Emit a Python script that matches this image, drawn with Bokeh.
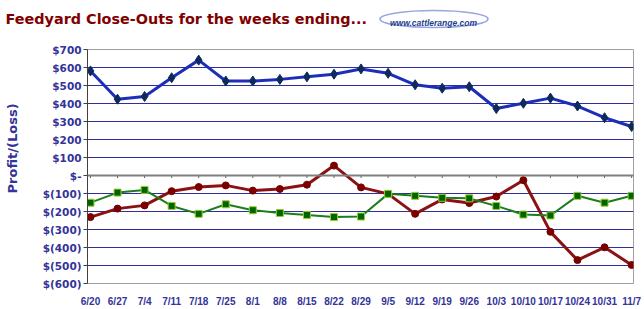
from bokeh.plotting import figure
from bokeh.layouts import column
from bokeh.models import Range1d, FixedTicker, Span, ColumnDataSource
from bokeh.core.properties import value
from bokeh.embed import file_html
from bokeh.resources import INLINE

# ---- data ----
weeks = ["6/20", "6/27", "7/4", "7/11", "7/18", "7/25", "8/1", "8/8", "8/15", "8/22",
         "8/29", "9/5", "9/12", "9/19", "9/26", "10/3", "10/10", "10/17", "10/24", "10/31", "11/7"]
series_blue = [581, 424, 439, 543, 641, 525, 525, 534, 548, 563,
               592, 568, 504, 485, 493, 372, 401, 430, 386, 321, 272]
series_red = [-231, -184, -166, -87, -64, -55, -84, -75, -51, 55,
              -66, -102, -213, -133, -153, -117, -26, -313, -470, -399, -497]
series_green = [-151, -95, -80, -169, -213, -160, -193, -208, -219, -231,
                -228, -102, -113, -124, -127, -169, -217, -222, -113, -151, -113]
y_ticks = [-600, -500, -400, -300, -200, -100, 0, 100, 200, 300, 400, 500, 600, 700]
title_text = "Feedyard Close-Outs for the weeks ending..."
logo_text = "www.cattlerange.com"
y_title = "Profit/(Loss)"


def money(v):
    if v == 0:
        return "$-"
    if v < 0:
        return "$(%d)" % (-v)
    return "$%d" % v


AXIS_BLUE = "#333399"
W = 644
HEAD_H = 43

# ---- header: title and logo ----
h = figure(width=W, height=HEAD_H, output_backend="svg", toolbar_location=None,
           x_range=Range1d(0, W), y_range=Range1d(HEAD_H, 0),
           min_border=0, min_border_left=0, min_border_right=0, min_border_top=0, min_border_bottom=0)
h.axis.visible = False
h.grid.visible = False
h.outline_line_color = None
h.background_fill_color = "white"
h.border_fill_color = "white"
h.text(x=[5], y=[18.5], text=[title_text], text_font=value("DejaVu Sans"), text_font_style="bold",
       text_font_size="14.4px", text_color="#800000", text_baseline="alphabetic", text_align="left")
h.ellipse(x=[433.5], y=[18.5], width=[108], height=[17], fill_color=None,
          line_color="#97a6e2", line_width=1.6)
h.text(x=[433], y=[22], text=[logo_text], text_font=value("Liberation Sans"), text_font_style="bold italic",
       text_font_size="8.5px", text_color="#233c8e", text_baseline="alphabetic", text_align="center")

# ---- main chart ----
idx = list(range(len(weeks)))
src = ColumnDataSource(dict(x=idx, blue=series_blue, red=series_red, green=series_green,
                            zero=[0] * len(idx), tick=[-14] * len(idx)))

p = figure(width=W, height=309 - HEAD_H, output_backend="svg", toolbar_location=None,
           x_range=Range1d(-0.11, 20.07), y_range=Range1d(-600, 700),
           min_border_left=87, min_border_right=11, min_border_top=6, min_border_bottom=21)
p.background_fill_color = "white"
p.border_fill_color = "white"
p.outline_line_color = "#a0a0a0"
p.outline_line_width = 1

for fig in (h, p):
    try:
        fig.frame_align = False
    except Exception:
        pass

# grid
p.xgrid.visible = False
p.ygrid.ticker = FixedTicker(ticks=y_ticks)
p.ygrid.grid_line_color = "#2e2e9e"
p.ygrid.grid_line_width = 1

# y axis
p.yaxis.ticker = FixedTicker(ticks=y_ticks)
p.yaxis.major_label_overrides = {v: money(v) for v in y_ticks}
p.yaxis.minor_tick_line_color = None
p.yaxis.major_tick_in = 0
p.yaxis.major_tick_out = 4
p.yaxis.major_tick_line_color = "#404040"
p.yaxis.axis_line_color = "#404040"
p.yaxis.axis_line_width = 1
p.yaxis.major_label_standoff = 2
p.yaxis.major_label_text_font = "DejaVu Sans"
p.yaxis.major_label_text_font_style = "bold"
p.yaxis.major_label_text_font_size = "10.5px"
p.yaxis.major_label_text_color = AXIS_BLUE
p.yaxis.axis_label = "\u00a0" * 8 + y_title
p.yaxis.axis_label_standoff = 20
p.yaxis.axis_label_text_font = "DejaVu Sans"
p.yaxis.axis_label_text_font_style = "bold"
p.yaxis.axis_label_text_font_size = "13px"
p.yaxis.axis_label_text_color = AXIS_BLUE

# x axis (labels only, at bottom)
p.xaxis.ticker = FixedTicker(ticks=idx)
p.xaxis.major_label_overrides = {i: w for i, w in zip(idx, weeks)}
p.xaxis.axis_line_color = None
p.xaxis.major_tick_line_color = None
p.xaxis.minor_tick_line_color = None
p.xaxis.major_label_standoff = 6
p.xaxis.major_label_text_font = "Liberation Sans"
p.xaxis.major_label_text_font_style = "bold"
p.xaxis.major_label_text_font_size = "10px"
p.xaxis.major_label_text_color = AXIS_BLUE

# zero (category) axis line with ticks
p.add_layout(Span(location=0, dimension="width", line_color="#808080", line_width=2))
p.segment(x0="x", x1="x", y0="zero", y1="tick", source=src, line_color="#606060", line_width=1)

# series
p.line("x", "red", source=src, line_color="#8b1212", line_width=3)
p.scatter("x", "red", source=src, marker="circle", size=7, fill_color="#7a0000", line_color="#7a0000")

p.line("x", "green", source=src, line_color="#1b7d1b", line_width=2)
p.scatter("x", "green", source=src, marker="square", size=7, fill_color="#006400",
          line_color="#9acd32", line_width=1)

p.line("x", "blue", source=src, line_color="#1d2fb8", line_width=3)
p.scatter("x", "blue", source=src, marker="diamond", size=10, fill_color="#0e2a5c",
          line_color="#0e2a5c")

layout = column(h, p, spacing=0)
open("out.html", "w").write(file_html(layout, INLINE))
